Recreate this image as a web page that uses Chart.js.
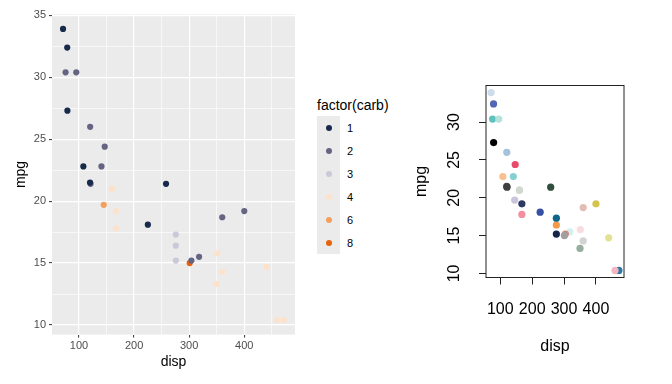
<!DOCTYPE html>
<html>
<head>
<meta charset="utf-8">
<script src="https://cdn.jsdelivr.net/npm/chart.js@4"></script>
<style>
  html, body { margin: 0; padding: 0; background: #fff; }
  body { width: 672px; height: 384px; position: relative; overflow: hidden; font-family: "Liberation Sans", Arial, sans-serif; }
  #left { position: absolute; left: 0; top: 0; }
  #right { position: absolute; left: 400px; top: 0; }
  #legend { position: absolute; left: 317px; top: 96px; }
  #legend .title { font-size: 14px; color: #000; height: 20px; line-height: 18px; }
  #legend .row { display: flex; align-items: center; height: 23px; }
  #legend .key { width: 23px; height: 23px; background: #ebebeb; position: relative; }
  #legend .dot { position: absolute; left: 8.5px; top: 8.5px; width: 6px; height: 6px; border-radius: 50%; }
  #legend .lab { font-size: 11px; color: #000; margin-left: 7px; }
</style>
</head>
<body>
<canvas id="left" width="300" height="384"></canvas>
<div id="legend"></div>
<canvas id="right" width="272" height="384"></canvas>
<script>
// mtcars, row order
const disp = [160, 160, 108, 258, 360, 225, 360, 146.7, 140.8, 167.6, 167.6, 275.8, 275.8, 275.8,
  472, 460, 440, 78.7, 75.7, 71.1, 120.1, 318, 304, 350, 400, 79, 120.3, 95.1, 351, 145, 301, 121];
const mpg = [21, 21, 22.8, 21.4, 18.7, 18.1, 14.3, 24.4, 22.8, 19.2, 17.8, 16.4, 17.3, 15.2,
  10.4, 10.4, 14.7, 32.4, 30.4, 33.9, 21.5, 15.5, 15.2, 13.3, 19.2, 27.3, 26, 30.4, 15.8, 19.7, 15, 21.4];
const carb = [4, 4, 1, 1, 2, 1, 4, 2, 2, 4, 4, 3, 3, 3, 4, 4, 4, 1, 2, 1, 1, 2, 2, 4, 2, 1, 2, 2, 4, 6, 8, 2];

const carbLevels = [1, 2, 3, 4, 6, 8];
const carbColors = ['#172a4b', '#656583', '#c9c9d9', '#fde2cb', '#f59f5e', '#e8610d'];

// one colour per car for the right-hand plot
const pointColors = ['#d0d8d0', '#d0d8d0', '#f9c08f', '#2f4f3c', '#e3bcb6', '#3650a3', '#d3d3d3',
  '#e84a6a', '#86d0d0', '#2d3a64', '#f2909e', '#f59a4a', '#0e6688', '#17244a', '#2a78a8', '#f3b5c0',
  '#e2e194', '#5565b5', '#5fc0be', '#ccdcea', '#444444', '#d4f0ee', '#d08878', '#97ad9f', '#d4c44c',
  '#000000', '#a4c2dc', '#b4e2dc', '#fadbe0', '#cbc5dc', '#a0a0a0', '#3f3f3f'];

const xTicksLeft = [100, 200, 300, 400];
const yTicksLeft = [10, 15, 20, 25, 30, 35];
const xTicksRight = [100, 200, 300, 400];
const yTicksRight = [10, 15, 20, 25, 30];

const FONT = '"Liberation Sans", Arial, sans-serif';

// ---------- left: ggplot style ----------
const isMajor = (list, v) => list.indexOf(v) !== -1;

const leftSets = carbLevels.map((c, k) => ({
  label: String(c),
  data: disp.map((d, i) => ({ x: d, y: mpg[i] })).filter((p, i) => carb[i] === c),
  backgroundColor: carbColors[k],
  borderWidth: 0,
  pointRadius: 3.1
}));

const panelBg = {
  id: 'panelBg',
  beforeDraw(chart) {
    const a = chart.chartArea, ctx = chart.ctx;
    ctx.save();
    ctx.fillStyle = '#ebebeb';
    ctx.fillRect(a.left, a.top, a.right - a.left, a.bottom - a.top);
    ctx.restore();
  }
};

new Chart(document.getElementById('left'), {
  type: 'scatter',
  data: { datasets: leftSets },
  options: {
    responsive: false,
    animation: false,
    layout: { padding: { top: 14.4, right: 5, bottom: 0, left: 0 } },
    plugins: { legend: { display: false }, tooltip: { enabled: false } },
    scales: {
      x: {
        min: 51.06, max: 492.05,
        afterBuildTicks: s => { s.ticks = [100, 150, 200, 250, 300, 350, 400, 450].map(v => ({ value: v })); },
        afterFit: s => { s.height = 49.4; },
        border: { display: false },
        grid: {
          color: '#ffffff',
          lineWidth: c => isMajor(xTicksLeft, c.tick.value) ? 1.2 : 0.6,
          tickColor: c => isMajor(xTicksLeft, c.tick.value) ? '#333333' : 'rgba(0,0,0,0)',
          tickLength: 3,
          tickWidth: 1
        },
        ticks: {
          padding: 2,
          color: '#4d4d4d',
          font: { family: FONT, size: 11 },
          callback: v => isMajor(xTicksLeft, v) ? String(v) : ''
        },
        title: { display: true, text: 'disp', color: '#000', font: { family: FONT, size: 14 }, padding: { top: 0, bottom: 13 } }
      },
      y: {
        min: 9.225, max: 35.075,
        afterBuildTicks: s => { s.ticks = [10, 12.5, 15, 17.5, 20, 22.5, 25, 27.5, 30, 32.5, 35].map(v => ({ value: v })); },
        afterFit: s => { s.width = 52; },
        border: { display: false },
        grid: {
          color: '#ffffff',
          lineWidth: c => isMajor(yTicksLeft, c.tick.value) ? 1.2 : 0.6,
          tickColor: c => isMajor(yTicksLeft, c.tick.value) ? '#333333' : 'rgba(0,0,0,0)',
          tickLength: 3,
          tickWidth: 1
        },
        ticks: {
          padding: 3,
          color: '#4d4d4d',
          font: { family: FONT, size: 11 },
          callback: v => isMajor(yTicksLeft, v) ? String(v) : ''
        },
        title: { display: true, text: 'mpg', color: '#000', font: { family: FONT, size: 14 }, padding: { top: 13, bottom: 0 } }
      }
    }
  },
  plugins: [panelBg]
});

// legend (ggplot style, html)
const legend = document.getElementById('legend');
let html = '<div class="title">factor(carb)</div>';
carbLevels.forEach((c, k) => {
  html += '<div class="row"><div class="key"><div class="dot" style="background:' + carbColors[k] +
    '"></div></div><div class="lab">' + c + '</div></div>';
});
legend.innerHTML = html;

// ---------- right: base R style ----------
const boxAndLabels = {
  id: 'boxAndLabels',
  afterDraw(chart) {
    const a = chart.chartArea, ctx = chart.ctx;
    ctx.save();
    ctx.strokeStyle = '#222';
    ctx.lineWidth = 1;
    ctx.strokeRect(a.left, a.top, a.right - a.left, a.bottom - a.top);
    // rotated y tick labels like R's las = 0
    const ys = chart.scales.y;
    ctx.fillStyle = '#000';
    ctx.font = '16px ' + FONT;
    ctx.textAlign = 'center';
    ctx.textBaseline = 'middle';
    yTicksRight.forEach(v => {
      ctx.save();
      ctx.translate(55, ys.getPixelForValue(v));
      ctx.rotate(-Math.PI / 2);
      ctx.fillText(String(v), 0, 0);
      ctx.restore();
    });
    ctx.restore();
  }
};

new Chart(document.getElementById('right'), {
  type: 'scatter',
  data: {
    datasets: [{
      data: disp.map((d, i) => ({ x: d, y: mpg[i] })),
      backgroundColor: pointColors,
      borderWidth: 0,
      pointRadius: 3.6
    }]
  },
  options: {
    responsive: false,
    animation: false,
    layout: { padding: { top: 85.5, right: 48, bottom: 0, left: 0 } },
    plugins: { legend: { display: false }, tooltip: { enabled: false } },
    scales: {
      x: {
        min: 55.06, max: 488.04,
        afterBuildTicks: s => { s.ticks = xTicksRight.map(v => ({ value: v })); },
        afterFit: s => { s.height = 106.5; },
        border: { display: false },
        grid: { drawOnChartArea: false, drawTicks: true, tickLength: 7, color: '#222', tickWidth: 1 },
        ticks: { padding: 15, color: '#000', font: { family: FONT, size: 16 }, maxRotation: 0, autoSkip: false },
        title: { display: true, text: 'disp', color: '#000', font: { family: FONT, size: 16 }, padding: { top: 0, bottom: 28 } }
      },
      y: {
        min: 9.46, max: 34.84,
        afterBuildTicks: s => { s.ticks = yTicksRight.map(v => ({ value: v })); },
        afterFit: s => { s.width = 86; },
        border: { display: false },
        grid: { drawOnChartArea: false, drawTicks: true, tickLength: 7, color: '#222', tickWidth: 1 },
        ticks: { display: false },
        title: { display: true, text: 'mpg', color: '#000', font: { family: FONT, size: 16 }, padding: { top: 12, bottom: 0 } }
      }
    }
  },
  plugins: [boxAndLabels]
});
</script>
</body>
</html>
